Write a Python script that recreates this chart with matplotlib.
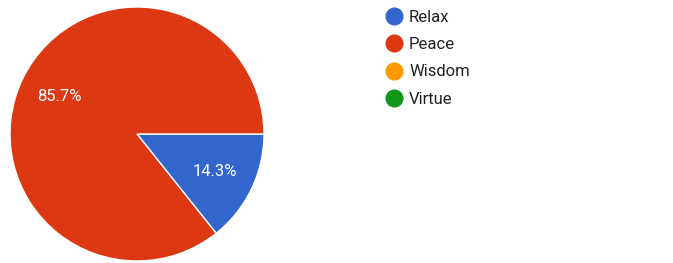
import matplotlib.pyplot as plt
from matplotlib.lines import Line2D

# Data
labels = ['Relax', 'Peace', 'Wisdom', 'Virtue']
counts = [1, 6, 0, 0]
colors = ['#3366CC', '#DC3912', '#FF9900', '#109618']

plt.rcParams['font.family'] = ['Roboto', 'DejaVu Sans']

fig = plt.figure(figsize=(6.73, 2.63), dpi=100)
W, H = 673, 263
ax = fig.add_axes([10 / W, 2 / H, 254 / W, 254 / H])

# skip zero-count slices for the pie itself
shown = [(c, col) for c, col in zip(counts, colors) if c > 0]
wedges, texts, autotexts = ax.pie(
    [s[0] for s in shown],
    colors=[s[1] for s in shown],
    startangle=0, counterclock=False,
    autopct='%1.1f%%', pctdistance=0.68,
    wedgeprops=dict(edgecolor='white', linewidth=1),
    textprops=dict(color='white', fontsize=12),
    radius=1,
)
ax.set_xlim(-1.0, 1.0)
ax.set_ylim(-1.0, 1.0)
ax.set_aspect('equal')
ax.axis('off')

handles = [Line2D([], [], marker='o', linestyle='none', markersize=12,
                  markerfacecolor=c, markeredgecolor=c) for c in colors]
fig.legend(handles, labels, loc='upper left', bbox_to_anchor=(377 / W, 1 - 3 / H),
           frameon=False, fontsize=12, labelspacing=0.74, handletextpad=0.32,
           handlelength=1.2, labelcolor='#222222', borderaxespad=0)

fig.savefig('out.png', dpi=100)
